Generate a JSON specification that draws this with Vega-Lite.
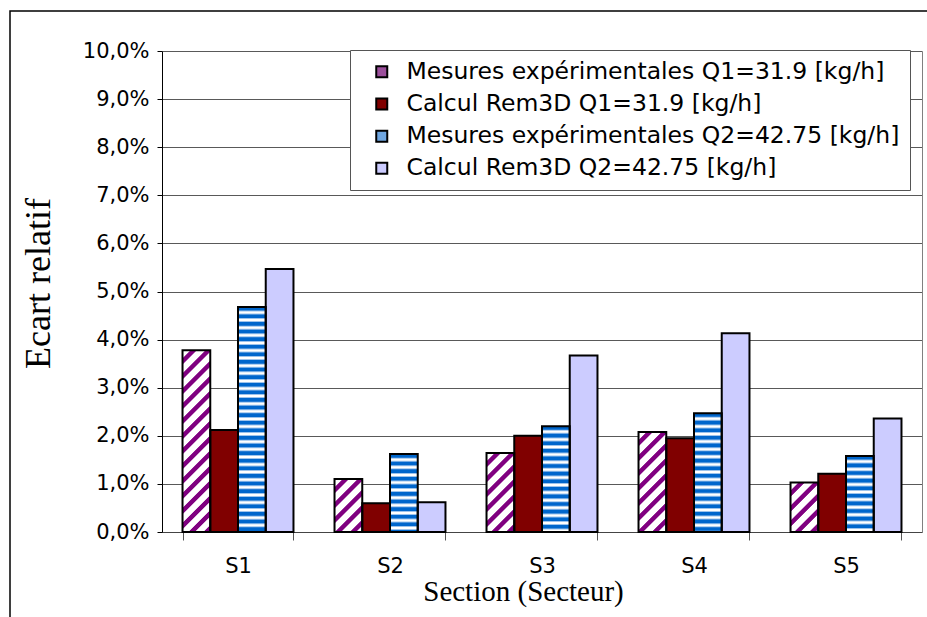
{
  "$schema": "https://vega.github.io/schema/vega-lite/v6.json",
  "width": 925,
  "height": 615,
  "autosize": {"type": "none"},
  "padding": {"left": 10, "top": 11, "right": -8, "bottom": -9},
  "background": "white",
  "config": {"view": {"stroke": "black", "strokeWidth": 1.5}},
  "resolve": {"axis": {"y": "independent"}},
  "data": {
    "values": [
      {"section": "S1", "series": "Mesures expérimentales Q1=31.9 [kg/h]", "value": 0.0378},
      {"section": "S1", "series": "Calcul  Rem3D Q1=31.9 [kg/h]", "value": 0.0212},
      {"section": "S1", "series": "Mesures expérimentales Q2=42.75 [kg/h]", "value": 0.0468},
      {"section": "S1", "series": "Calcul Rem3D Q2=42.75 [kg/h]", "value": 0.0547},
      {"section": "S2", "series": "Mesures expérimentales Q1=31.9 [kg/h]", "value": 0.0110},
      {"section": "S2", "series": "Calcul  Rem3D Q1=31.9 [kg/h]", "value": 0.0060},
      {"section": "S2", "series": "Mesures expérimentales Q2=42.75 [kg/h]", "value": 0.0162},
      {"section": "S2", "series": "Calcul Rem3D Q2=42.75 [kg/h]", "value": 0.0062},
      {"section": "S3", "series": "Mesures expérimentales Q1=31.9 [kg/h]", "value": 0.0164},
      {"section": "S3", "series": "Calcul  Rem3D Q1=31.9 [kg/h]", "value": 0.0200},
      {"section": "S3", "series": "Mesures expérimentales Q2=42.75 [kg/h]", "value": 0.0220},
      {"section": "S3", "series": "Calcul Rem3D Q2=42.75 [kg/h]", "value": 0.0367},
      {"section": "S4", "series": "Mesures expérimentales Q1=31.9 [kg/h]", "value": 0.0208},
      {"section": "S4", "series": "Calcul  Rem3D Q1=31.9 [kg/h]", "value": 0.0195},
      {"section": "S4", "series": "Mesures expérimentales Q2=42.75 [kg/h]", "value": 0.0247},
      {"section": "S4", "series": "Calcul Rem3D Q2=42.75 [kg/h]", "value": 0.0413},
      {"section": "S5", "series": "Mesures expérimentales Q1=31.9 [kg/h]", "value": 0.0103},
      {"section": "S5", "series": "Calcul  Rem3D Q1=31.9 [kg/h]", "value": 0.0121},
      {"section": "S5", "series": "Mesures expérimentales Q2=42.75 [kg/h]", "value": 0.0158},
      {"section": "S5", "series": "Calcul Rem3D Q2=42.75 [kg/h]", "value": 0.0236}
    ]
  },
  "encoding": {
    "x": {
      "field": "section", "type": "nominal",
      "scale": {"range": [152, 912], "paddingInner": 0.27, "paddingOuter": 0.135},
      "axis": {
        "title": "Section (Secteur)", "titleFont": "Liberation Serif", "titleFontSize": 29, "titleFontWeight": "normal",
        "titleColor": "black", "titleX": 513, "titleY": 68, "titleBaseline": "alphabetic", "titleAlign": "center",
        "offset": -94, "tickBand": "extent", "tickSize": 8, "tickColor": "#555", "domainColor": "#444",
        "labelFont": "DejaVu Sans", "labelFontSize": 21, "labelColor": "black", "labelPadding": 15, "labelAngle": 0, "grid": false
      }
    },
    "xOffset": {
      "field": "series", "type": "nominal",
      "scale": {"domain": ["Mesures expérimentales Q1=31.9 [kg/h]", "Calcul  Rem3D Q1=31.9 [kg/h]", "Mesures expérimentales Q2=42.75 [kg/h]", "Calcul Rem3D Q2=42.75 [kg/h]"], "paddingInner": 0, "paddingOuter": 0}
    },
    "y": {
      "field": "value", "type": "quantitative",
      "scale": {"domain": [0, 0.1], "nice": false, "range": [521, 40]},
      "axis": null
    }
  },
  "layer": [
    {
      "mark": {"type": "bar", "strokeWidth": 0},
      "encoding": {
        "y": {
          "field": "value", "type": "quantitative",
          "scale": {"domain": [0, 0.1], "nice": false, "range": [521, 40]},
          "axis": {
            "orient": "left",
            "title": "Ecart relatif", "titleFont": "Liberation Serif", "titleFontSize": 36, "titleFontWeight": "normal",
            "titleColor": "black", "titleX": -113, "titleY": 272, "titleBaseline": "alphabetic", "titleAngle": -90, "titleAlign": "center",
            "offset": -152, "values": [0, 0.01, 0.02, 0.03, 0.04, 0.05, 0.06, 0.07, 0.08, 0.09, 0.1],
            "labelExpr": "replace(format(datum.value, '.1%'), '.', ',')",
            "tickSize": 5, "tickColor": "black", "domainColor": "black", "grid": true, "gridColor": "#595959", "gridWidth": 1,
            "labelFont": "DejaVu Sans", "labelFontSize": 21, "labelColor": "black", "labelPadding": 8
          }
        },
        "fill": {
          "field": "series", "type": "nominal",
          "scale": {
            "domain": ["Mesures expérimentales Q1=31.9 [kg/h]", "Calcul  Rem3D Q1=31.9 [kg/h]", "Mesures expérimentales Q2=42.75 [kg/h]", "Calcul Rem3D Q2=42.75 [kg/h]"],
            "range": ["#9b4f9b", "#800000", "#6fa6e0", "#ccccff"]
          },
          "legend": {
            "title": null, "orient": "none", "legendX": 340, "legendY": 39, "padding": 10,
            "strokeColor": "#555", "fillColor": "white", "symbolType": "square", "symbolSize": 121,
            "symbolStrokeColor": "black", "symbolStrokeWidth": 2, "symbolOffset": 10, "labelOffset": 13,
            "labelFont": "DejaVu Sans", "labelFontSize": 23.5, "labelColor": "black", "labelLimit": 700, "rowPadding": 7.2,
            "encode": {"symbols": {"update": {"stroke": {"value": "black"}, "strokeWidth": {"value": 2}}}}
          }
        }
      }
    },
    {
      "transform": [{"filter": "datum.series === 'Mesures expérimentales Q1=31.9 [kg/h]' && datum.section === 'S1'"}],
      "mark": {"type": "bar", "strokeWidth": 0, "fill": {"gradient": "linear", "x1": 0, "y1": 0, "x2": 0.1718, "y2": 1.1263, "stops": [
        {"offset": 0, "color": "#ffffff"}, {"offset": 0.0357, "color": "#ffffff"}, {"offset": 0.0414, "color": "#800080"}, {"offset": 0.0657, "color": "#800080"},
        {"offset": 0.0714, "color": "#ffffff"}, {"offset": 0.1071, "color": "#ffffff"}, {"offset": 0.1129, "color": "#800080"}, {"offset": 0.1371, "color": "#800080"},
        {"offset": 0.1429, "color": "#ffffff"}, {"offset": 0.1786, "color": "#ffffff"}, {"offset": 0.1843, "color": "#800080"}, {"offset": 0.2086, "color": "#800080"},
        {"offset": 0.2143, "color": "#ffffff"}, {"offset": 0.25, "color": "#ffffff"}, {"offset": 0.2557, "color": "#800080"}, {"offset": 0.28, "color": "#800080"},
        {"offset": 0.2857, "color": "#ffffff"}, {"offset": 0.3214, "color": "#ffffff"}, {"offset": 0.3271, "color": "#800080"}, {"offset": 0.3514, "color": "#800080"},
        {"offset": 0.3571, "color": "#ffffff"}, {"offset": 0.3929, "color": "#ffffff"}, {"offset": 0.3986, "color": "#800080"}, {"offset": 0.4229, "color": "#800080"},
        {"offset": 0.4286, "color": "#ffffff"}, {"offset": 0.4643, "color": "#ffffff"}, {"offset": 0.47, "color": "#800080"}, {"offset": 0.4943, "color": "#800080"},
        {"offset": 0.5, "color": "#ffffff"}, {"offset": 0.5357, "color": "#ffffff"}, {"offset": 0.5414, "color": "#800080"}, {"offset": 0.5657, "color": "#800080"},
        {"offset": 0.5714, "color": "#ffffff"}, {"offset": 0.6071, "color": "#ffffff"}, {"offset": 0.6129, "color": "#800080"}, {"offset": 0.6371, "color": "#800080"},
        {"offset": 0.6429, "color": "#ffffff"}, {"offset": 0.6786, "color": "#ffffff"}, {"offset": 0.6843, "color": "#800080"}, {"offset": 0.7086, "color": "#800080"},
        {"offset": 0.7143, "color": "#ffffff"}, {"offset": 0.75, "color": "#ffffff"}, {"offset": 0.7557, "color": "#800080"}, {"offset": 0.78, "color": "#800080"},
        {"offset": 0.7857, "color": "#ffffff"}, {"offset": 0.8214, "color": "#ffffff"}, {"offset": 0.8271, "color": "#800080"}, {"offset": 0.8514, "color": "#800080"},
        {"offset": 0.8571, "color": "#ffffff"}, {"offset": 0.8929, "color": "#ffffff"}, {"offset": 0.8986, "color": "#800080"}, {"offset": 0.9229, "color": "#800080"},
        {"offset": 0.9286, "color": "#ffffff"}, {"offset": 0.9643, "color": "#ffffff"}, {"offset": 0.97, "color": "#800080"}, {"offset": 0.9943, "color": "#800080"},
        {"offset": 1, "color": "#ffffff"}]}}
    },
    {
      "transform": [{"filter": "datum.series === 'Mesures expérimentales Q1=31.9 [kg/h]' && datum.section === 'S2'"}],
      "mark": {"type": "bar", "strokeWidth": 0, "fill": {"gradient": "linear", "x1": 0, "y1": 0, "x2": 0.627, "y2": 1.1956, "stops": [
        {"offset": 0, "color": "#ffffff"}, {"offset": 0.093, "color": "#ffffff"}, {"offset": 0.1079, "color": "#800080"}, {"offset": 0.1711, "color": "#800080"},
        {"offset": 0.186, "color": "#ffffff"}, {"offset": 0.279, "color": "#ffffff"}, {"offset": 0.2939, "color": "#800080"}, {"offset": 0.3571, "color": "#800080"},
        {"offset": 0.372, "color": "#ffffff"}, {"offset": 0.465, "color": "#ffffff"}, {"offset": 0.4799, "color": "#800080"}, {"offset": 0.5431, "color": "#800080"},
        {"offset": 0.558, "color": "#ffffff"}, {"offset": 0.651, "color": "#ffffff"}, {"offset": 0.6659, "color": "#800080"}, {"offset": 0.7291, "color": "#800080"},
        {"offset": 0.744, "color": "#ffffff"}, {"offset": 0.837, "color": "#ffffff"}, {"offset": 0.8519, "color": "#800080"}, {"offset": 0.9151, "color": "#800080"},
        {"offset": 0.93, "color": "#ffffff"}, {"offset": 1, "color": "#ffffff"}]}}
    },
    {
      "transform": [{"filter": "datum.series === 'Mesures expérimentales Q1=31.9 [kg/h]' && datum.section === 'S3'"}],
      "mark": {"type": "bar", "strokeWidth": 0, "fill": {"gradient": "linear", "x1": 0, "y1": 0, "x2": 0.4229, "y2": 1.2029, "stops": [
        {"offset": 0, "color": "#ffffff"}, {"offset": 0.0703, "color": "#ffffff"}, {"offset": 0.0816, "color": "#800080"}, {"offset": 0.1294, "color": "#800080"},
        {"offset": 0.1407, "color": "#ffffff"}, {"offset": 0.211, "color": "#ffffff"}, {"offset": 0.2222, "color": "#800080"}, {"offset": 0.2701, "color": "#800080"},
        {"offset": 0.2813, "color": "#ffffff"}, {"offset": 0.3516, "color": "#ffffff"}, {"offset": 0.3629, "color": "#800080"}, {"offset": 0.4107, "color": "#800080"},
        {"offset": 0.422, "color": "#ffffff"}, {"offset": 0.4923, "color": "#ffffff"}, {"offset": 0.5035, "color": "#800080"}, {"offset": 0.5514, "color": "#800080"},
        {"offset": 0.5626, "color": "#ffffff"}, {"offset": 0.633, "color": "#ffffff"}, {"offset": 0.6442, "color": "#800080"}, {"offset": 0.692, "color": "#800080"},
        {"offset": 0.7033, "color": "#ffffff"}, {"offset": 0.7736, "color": "#ffffff"}, {"offset": 0.7848, "color": "#800080"}, {"offset": 0.8327, "color": "#800080"},
        {"offset": 0.844, "color": "#ffffff"}, {"offset": 0.9143, "color": "#ffffff"}, {"offset": 0.9255, "color": "#800080"}, {"offset": 0.9734, "color": "#800080"},
        {"offset": 0.9846, "color": "#ffffff"}, {"offset": 1, "color": "#ffffff"}]}}
    },
    {
      "transform": [{"filter": "datum.series === 'Mesures expérimentales Q1=31.9 [kg/h]' && datum.section === 'S4'"}],
      "mark": {"type": "bar", "strokeWidth": 0, "fill": {"gradient": "linear", "x1": 0, "y1": 0, "x2": 0.329, "y2": 1.1861, "stops": [
        {"offset": 0, "color": "#ffffff"}, {"offset": 0.0587, "color": "#ffffff"}, {"offset": 0.0681, "color": "#800080"}, {"offset": 0.108, "color": "#800080"},
        {"offset": 0.1174, "color": "#ffffff"}, {"offset": 0.1762, "color": "#ffffff"}, {"offset": 0.1855, "color": "#800080"}, {"offset": 0.2255, "color": "#800080"},
        {"offset": 0.2349, "color": "#ffffff"}, {"offset": 0.2936, "color": "#ffffff"}, {"offset": 0.303, "color": "#800080"}, {"offset": 0.3429, "color": "#800080"},
        {"offset": 0.3523, "color": "#ffffff"}, {"offset": 0.411, "color": "#ffffff"}, {"offset": 0.4204, "color": "#800080"}, {"offset": 0.4603, "color": "#800080"},
        {"offset": 0.4697, "color": "#ffffff"}, {"offset": 0.5285, "color": "#ffffff"}, {"offset": 0.5378, "color": "#800080"}, {"offset": 0.5778, "color": "#800080"},
        {"offset": 0.5872, "color": "#ffffff"}, {"offset": 0.6459, "color": "#ffffff"}, {"offset": 0.6553, "color": "#800080"}, {"offset": 0.6952, "color": "#800080"},
        {"offset": 0.7046, "color": "#ffffff"}, {"offset": 0.7633, "color": "#ffffff"}, {"offset": 0.7727, "color": "#800080"}, {"offset": 0.8126, "color": "#800080"},
        {"offset": 0.822, "color": "#ffffff"}, {"offset": 0.8807, "color": "#ffffff"}, {"offset": 0.8901, "color": "#800080"}, {"offset": 0.93, "color": "#800080"},
        {"offset": 0.9394, "color": "#ffffff"}, {"offset": 1, "color": "#ffffff"}]}}
    },
    {
      "transform": [{"filter": "datum.series === 'Mesures expérimentales Q1=31.9 [kg/h]' && datum.section === 'S5'"}],
      "mark": {"type": "bar", "strokeWidth": 0, "fill": {"gradient": "linear", "x1": 0, "y1": 0, "x2": 0.6655, "y2": 1.1875, "stops": [
        {"offset": 0, "color": "#ffffff"}, {"offset": 0.0971, "color": "#ffffff"}, {"offset": 0.1126, "color": "#800080"}, {"offset": 0.1787, "color": "#800080"},
        {"offset": 0.1942, "color": "#ffffff"}, {"offset": 0.2913, "color": "#ffffff"}, {"offset": 0.3068, "color": "#800080"}, {"offset": 0.3729, "color": "#800080"},
        {"offset": 0.3884, "color": "#ffffff"}, {"offset": 0.4855, "color": "#ffffff"}, {"offset": 0.501, "color": "#800080"}, {"offset": 0.5671, "color": "#800080"},
        {"offset": 0.5826, "color": "#ffffff"}, {"offset": 0.6797, "color": "#ffffff"}, {"offset": 0.6952, "color": "#800080"}, {"offset": 0.7613, "color": "#800080"},
        {"offset": 0.7768, "color": "#ffffff"}, {"offset": 0.8739, "color": "#ffffff"}, {"offset": 0.8894, "color": "#800080"}, {"offset": 0.9555, "color": "#800080"},
        {"offset": 0.971, "color": "#ffffff"}, {"offset": 1, "color": "#ffffff"}]}}
    },
    {
      "transform": [{"filter": "datum.series === 'Mesures expérimentales Q2=42.75 [kg/h]'"}],
      "mark": {"type": "bar", "strokeWidth": 0, "fill": "#ffffff"}
    },
    {
      "transform": [{"filter": "datum.series === 'Mesures expérimentales Q2=42.75 [kg/h]'"}],
      "mark": {"type": "rule", "stroke": "#9dc3ec", "strokeWidth": 27.7, "strokeDash": [5.6, 2], "strokeDashOffset": 1},
      "encoding": {"y2": {"datum": 0}}
    },
    {
      "transform": [{"filter": "datum.series === 'Mesures expérimentales Q2=42.75 [kg/h]'"}],
      "mark": {"type": "rule", "stroke": "#0066cc", "strokeWidth": 27.7, "strokeDash": [3.6, 4]},
      "encoding": {"y2": {"datum": 0}}
    },
    {
      "mark": {"type": "bar", "fillOpacity": 0, "stroke": "black", "strokeWidth": 2},
      "encoding": {
        "y": {
          "field": "value", "type": "quantitative",
          "scale": {"domain": [0, 0.1], "nice": false, "range": [521, 40]},
          "axis": {"orient": "right", "offset": -13, "title": null, "labels": false, "ticks": false, "grid": false, "domain": true, "domainColor": "#808080", "domainWidth": 1}
        }
      }
    }
  ]
}
